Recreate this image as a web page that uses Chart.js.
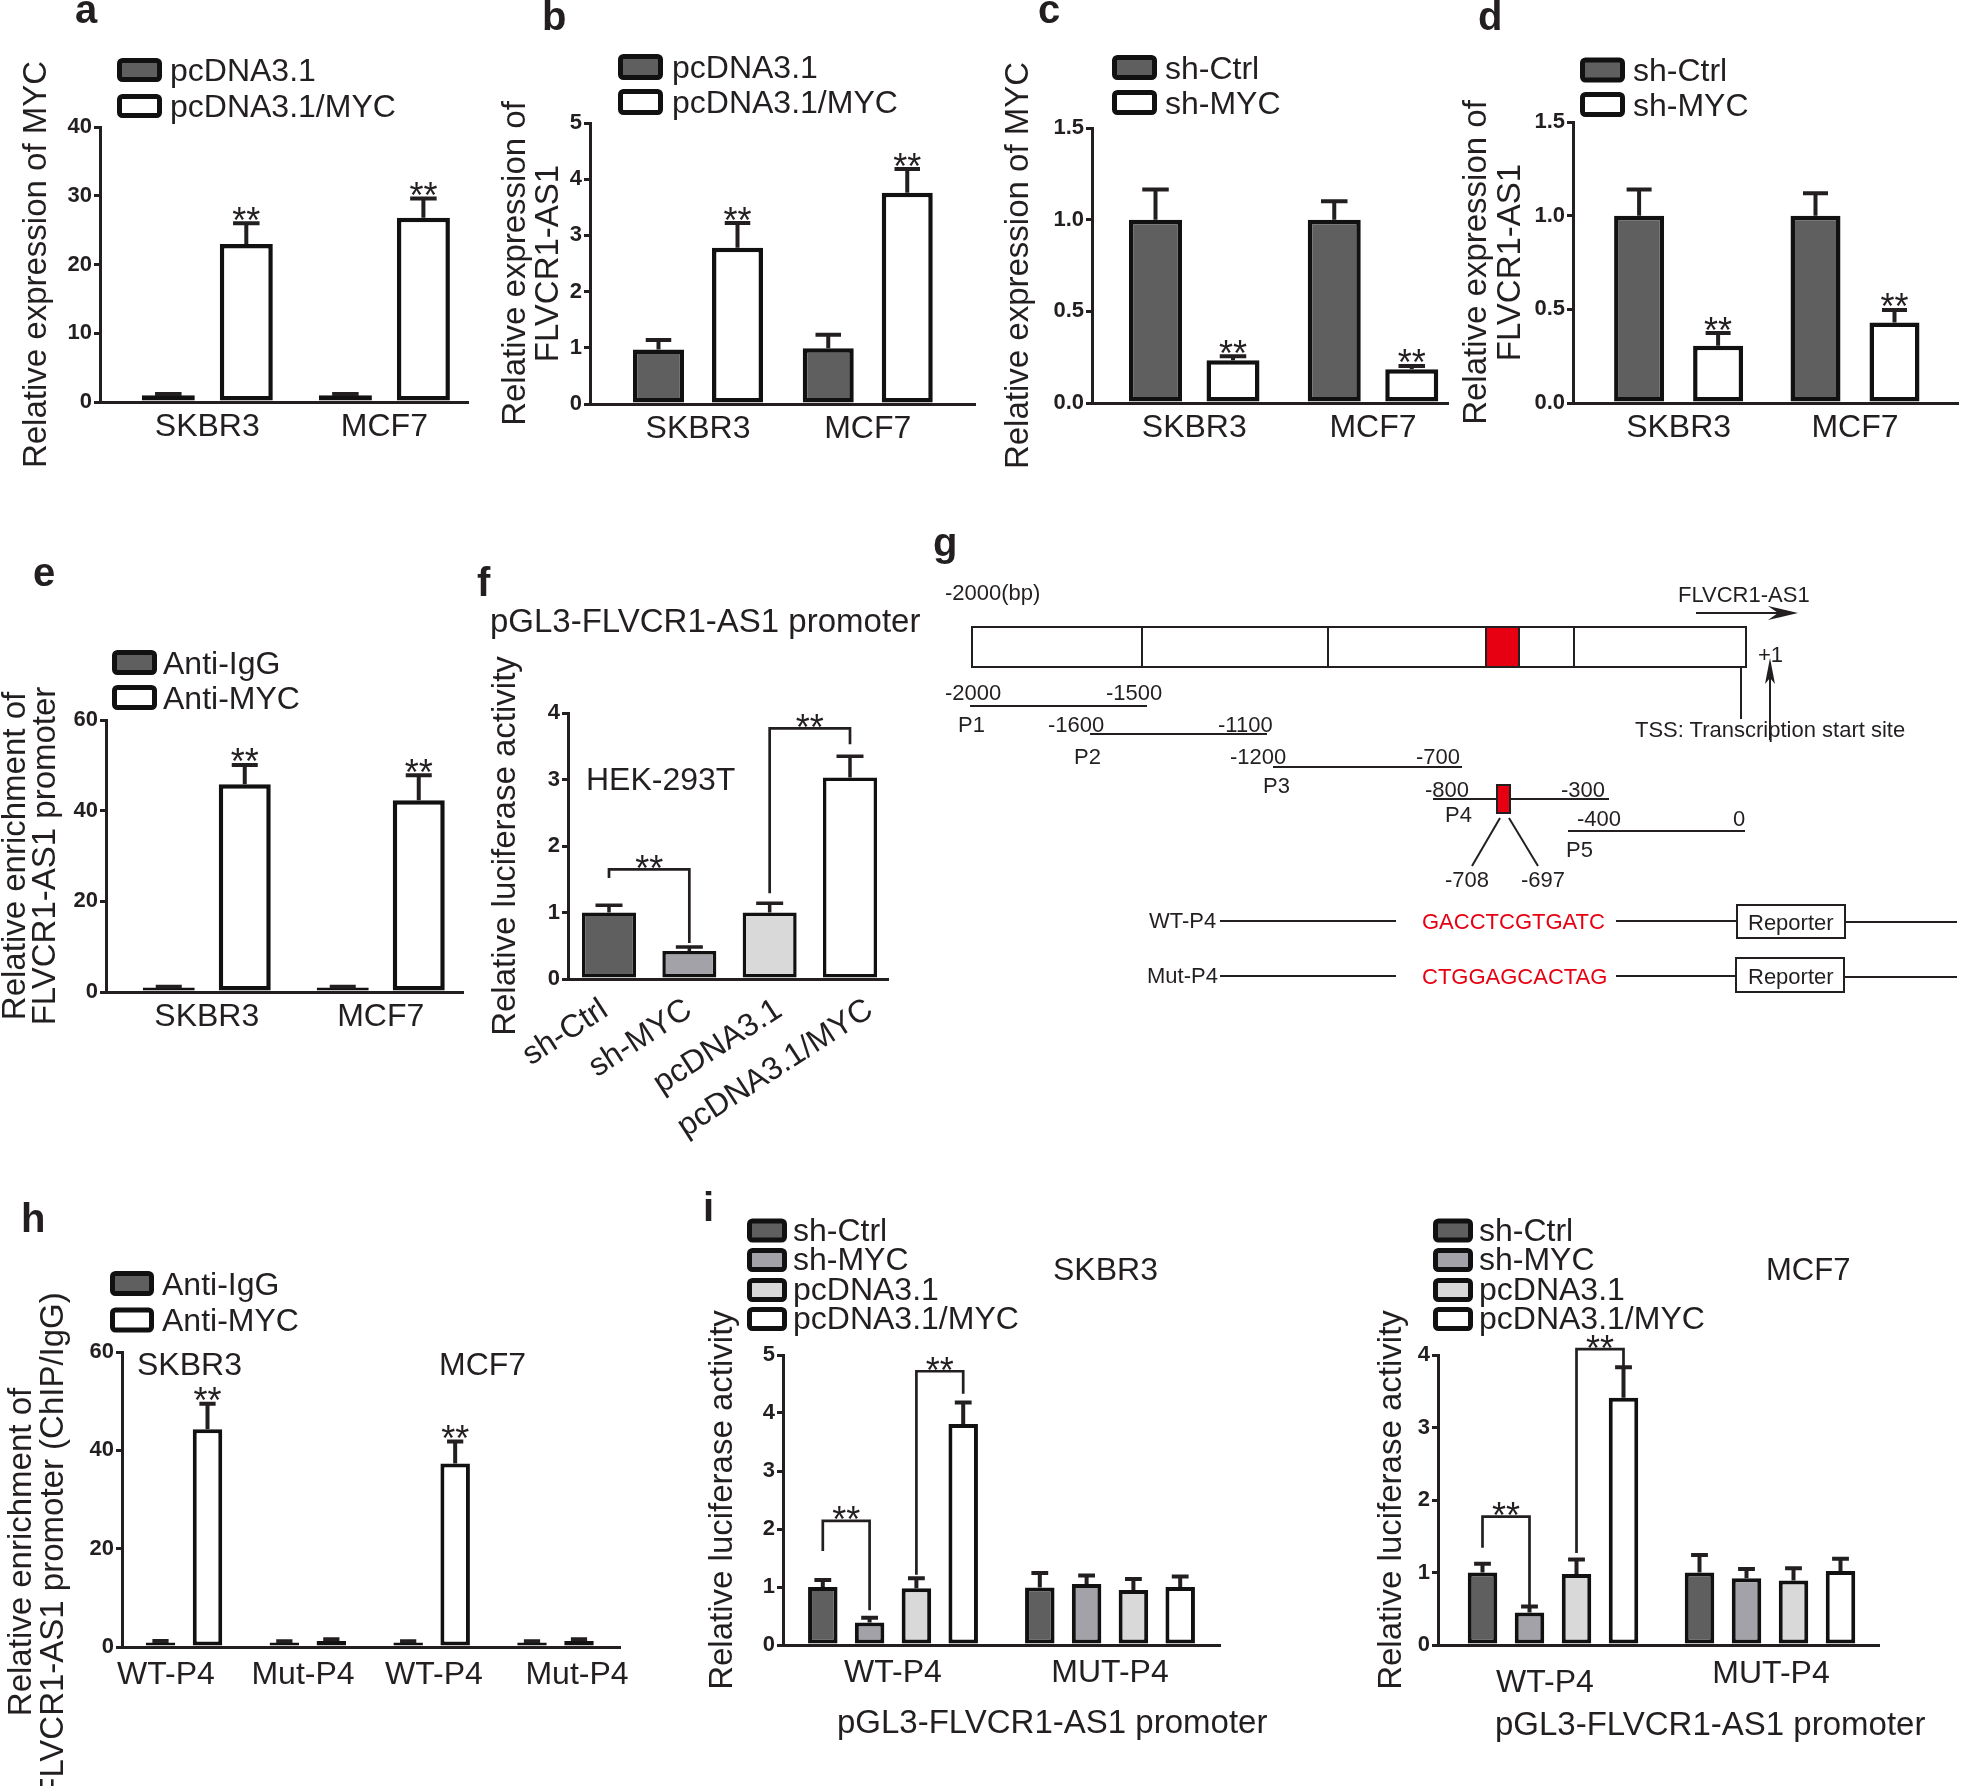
<!DOCTYPE html>
<html><head><meta charset="utf-8">
<script src="https://cdn.jsdelivr.net/npm/chart.js@4.4.1/dist/chart.umd.min.js"></script>
<style>
html,body{margin:0;padding:0;background:#fff;overflow:hidden;}
#page{position:relative;width:1961px;height:1786px;overflow:hidden;background:#fff;}
canvas{position:absolute;}
#ov{position:absolute;left:0;top:0;z-index:5;pointer-events:none;}
svg text{font-family:"Liberation Sans",Arial,Helvetica,sans-serif;}
</style></head>
<body><div id="page"><svg id="ov" width="1961" height="1786" xmlns="http://www.w3.org/2000/svg"></svg></div>
<script>
// ================= DATA =================
// a
const aCats = ['SKBR3', 'MCF7'];
const aSeries = ['pcDNA3.1', 'pcDNA3.1/MYC'];
const aCtrl = [1.0, 1.0];     const aCtrlSD = [0.15, 0.15];
const aMyc = [23.0, 26.8];    const aMycSD = [3.0, 2.8];
// b
const bCtrl = [0.97, 0.99];   const bCtrlSD = [0.17, 0.24];
const bMyc = [2.78, 3.76];    const bMycSD = [0.44, 0.42];
// c
const shSeries = ['sh-Ctrl', 'sh-MYC'];
const cCtrl = [1.0, 1.0];     const cCtrlSD = [0.165, 0.10];
const cSh = [0.233, 0.184];   const cShSD = [0.022, 0.018];
// d
const dCtrl = [1.0, 1.0];     const dCtrlSD = [0.14, 0.12];
const dSh = [0.305, 0.43];    const dShSD = [0.068, 0.067];
// e
const chipSeries = ['Anti-IgG', 'Anti-MYC'];
const eIgG = [1.0, 1.0];      const eIgGSD = [0.15, 0.15];
const eMyc = [45.8, 42.3];    const eMycSD = [4.3, 5.5];
// f
const fCats = ['sh-Ctrl', 'sh-MYC', 'pcDNA3.1', 'pcDNA3.1/MYC'];
const fVals = [1.0, 0.42, 1.0, 3.03];
const fSD = [0.11, 0.06, 0.14, 0.32];
const fBrackets = [
  {from: [0, 0], to: [0, 1], left: 1.52, top: 1.65, right: 0.54},
  {from: [0, 2], to: [0, 3], left: 1.29, top: 3.77, right: 3.53}
];
// h
const hCats = ['WT-P4', 'Mut-P4', 'WT-P4', 'Mut-P4'];
const hIgG = [0.9, 0.9, 0.9, 0.9];     const hIgGSD = [0.3, 0.25, 0.25, 0.25];
const hMyc = [44.3, 1.2, 37.3, 1.2];   const hMycSD = [5.2, 0.4, 4.5, 0.4];
const hStars = [true, false, true, false];
// i
const iCats = ['WT-P4', 'MUT-P4'];
const iSeries = ['sh-Ctrl', 'sh-MYC', 'pcDNA3.1', 'pcDNA3.1/MYC'];
const iSkCtrl = [1.0, 0.99];  const iSkCtrlSD = [0.12, 0.25];
const iSkSh = [0.39, 1.05];   const iSkShSD = [0.08, 0.15];
const iSkPc = [0.98, 0.95];   const iSkPcSD = [0.17, 0.19];
const iSkMyc = [3.81, 1.0];   const iSkMycSD = [0.37, 0.18];
const iSkBrackets = [
  {from: [0, 0], to: [1, 0], left: 1.62, top: 2.14, right: 0.60},
  {from: [2, 0], to: [3, 0], left: 1.21, top: 4.72, right: 4.33}
];
const iMcCtrl = [1.0, 1.0];   const iMcCtrlSD = [0.12, 0.24];
const iMcSh = [0.45, 0.92];   const iMcShSD = [0.08, 0.13];
const iMcPc = [0.98, 0.89];   const iMcPcSD = [0.20, 0.17];
const iMcMyc = [3.41, 1.02];  const iMcMycSD = [0.42, 0.17];
const iMcBrackets = [
  {from: [0, 0], to: [1, 0], left: 1.34, top: 1.77, right: 0.53},
  {from: [2, 0], to: [3, 0], left: 1.27, top: 4.08, right: 3.84}
];

// ================= STYLE =================
const INK = '#231f20';
const EDGE = '#111111';
const DARK = '#5f5f5f', MID = '#a2a2a8', LIGHT = '#d9d9d9', WHITE = '#ffffff';
const FONT = "'Liberation Sans', Arial, Helvetica, sans-serif";
Chart.defaults.font.family = FONT;
Chart.defaults.color = INK;

const page = document.getElementById('page');
const svg = document.getElementById('ov');
const NS = 'http://www.w3.org/2000/svg';
function el(tag, attrs, text) {
  const e = document.createElementNS(NS, tag);
  for (const k in attrs) e.setAttribute(k, attrs[k]);
  if (text != null) e.textContent = text;
  svg.appendChild(e);
  return e;
}
function txt(x, y, s, size, o = {}) {
  const a = {x: x, y: y, 'font-size': size, fill: o.fill || INK};
  if (o.bold) a['font-weight'] = 'bold';
  if (o.anchor) a['text-anchor'] = o.anchor;
  if (o.transform) a.transform = o.transform;
  return el('text', a, s);
}
function line(x1, y1, x2, y2, w, c) {
  return el('line', {x1, y1, x2, y2, stroke: c || INK, 'stroke-width': w || 2});
}
function legend(x, w, h, centers, tx, labels, colors, size, off) {
  labels.forEach((lab, i) => {
    el('rect', {x: x + 2.5, y: centers[i] - h / 2 + 2.5, width: w - 5, height: h - 5, rx: 3,
      fill: colors[i], stroke: EDGE, 'stroke-width': 5});
    txt(tx, centers[i] + off, lab, size);
  });
}

function drawStar(ctx, x, y) {
  ctx.font = "36px " + FONT;
  ctx.textAlign = 'center';
  ctx.textBaseline = 'alphabetic';
  ctx.fillText('**', x, y);
}

function overlayPlugin(p) {
  return {
    id: 'overlay_' + p.id,
    afterDatasetsDraw(chart) {
      const ctx = chart.ctx, ys = chart.scales.y;
      ctx.save();
      ctx.strokeStyle = INK; ctx.fillStyle = INK; ctx.lineCap = 'butt';
      chart.data.datasets.forEach((ds, di) => {
        const meta = chart.getDatasetMeta(di);
        meta.data.forEach((bar, i) => {
          const v = ds.data[i].y;
          const top = ys.getPixelForValue(v + ds.sd[i]);
          const cw = bar.width * p.cap;
          ctx.lineWidth = p.ew;
          ctx.beginPath();
          ctx.moveTo(bar.x, bar.y); ctx.lineTo(bar.x, top);
          ctx.moveTo(bar.x - cw / 2, top); ctx.lineTo(bar.x + cw / 2, top);
          ctx.stroke();
          if (ds.stars && ds.stars[i]) drawStar(ctx, bar.x, top + 9.5);
        });
      });
      (p.brackets || []).forEach(b => {
        const A = chart.getDatasetMeta(b.from[0]).data[b.from[1]];
        const B = chart.getDatasetMeta(b.to[0]).data[b.to[1]];
        const yl = ys.getPixelForValue(b.left), yt = ys.getPixelForValue(b.top), yr = ys.getPixelForValue(b.right);
        ctx.lineWidth = 2.7;
        ctx.beginPath();
        ctx.moveTo(A.x, yl); ctx.lineTo(A.x, yt); ctx.lineTo(B.x, yt); ctx.lineTo(B.x, yr);
        ctx.stroke();
        drawStar(ctx, (A.x + B.x) / 2, yt + 11.5);
      });
      ctx.restore();
    }
  };
}

function makeBar(p) {
  const cv = document.createElement('canvas');
  const [cx, cy, cw, ch] = p.canvas;
  cv.width = cw; cv.height = ch;
  cv.style.left = cx + 'px'; cv.style.top = cy + 'px';
  cv.style.width = cw + 'px'; cv.style.height = ch + 'px';
  page.appendChild(cv);
  const [l, t, r, b] = p.area;
  const gc = p.centers, n = gc.length;
  const u = (gc[n - 1] - gc[0]) / (n - 1);
  const xMin = 1 - (gc[0] - l) / u, xMax = n + (r - gc[n - 1]) / u;
  const tickVals = p.groups.map((g, i) => p.labelPos ? 1 + (p.labelPos[i] - gc[0]) / u : i + 1);
  const k = p.datasets.length;
  const chunk = p.chunk || u;
  const xs = p.xSize || 32;
  const datasets = p.datasets.map(d => ({
    label: d.label,
    data: d.values.map((v, i) => ({x: i + 1, y: v})),
    sd: d.sd, stars: d.stars,
    backgroundColor: d.color, borderColor: EDGE, borderWidth: p.bw, borderSkipped: false,
    categoryPercentage: chunk * k / u, barPercentage: p.barW / chunk
  }));
  const title = p.title ? {
    display: true, text: p.title.lines, color: INK,
    font: {family: FONT, size: p.title.size, lineHeight: p.title.lh / p.title.size},
    padding: {top: p.title.x - cx - p.title.lh / 2, bottom: 0}
  } : {display: false};
  new Chart(cv, {
    type: 'bar',
    data: {datasets},
    plugins: [overlayPlugin(p)],
    options: {
      responsive: false, animation: false, devicePixelRatio: 1, events: [],
      layout: {autoPadding: false, padding: {left: 0, top: t - cy, right: cx + cw - r, bottom: 0}},
      plugins: {legend: {display: false}, tooltip: {enabled: false}, title: {display: false}},
      scales: {
        x: {
          type: 'linear', min: xMin, max: xMax, offset: false,
          afterBuildTicks: s => { s.ticks = tickVals.map(v => ({value: v})); },
          afterFit: s => { s.height = cy + ch - b; },
          ticks: {autoSkip: false, color: INK, padding: p.xPad,
            font: c => ({family: FONT, size: xs, lineHeight: 1.2 + 2 * ((p.labelDrop && p.labelDrop[c.index]) || 0) / xs}),
            maxRotation: p.rot || 0, minRotation: p.rot || 0,
            callback: (v, i) => p.groups[i]},
          grid: {display: false, drawTicks: false, offset: false},
          border: {display: true, width: 3, color: INK, z: 1}
        },
        y: {
          type: 'linear', min: 0, max: p.yMax,
          afterFit: s => { s.width = l - cx; },
          ticks: {stepSize: p.yStep, color: INK, font: {family: FONT, size: 22, weight: 'bold'}, padding: 2,
            callback: v => p.yDec ? Number(v).toFixed(p.yDec) : v},
          grid: {display: true, drawOnChartArea: false, drawTicks: true, tickLength: 6, lineWidth: 3, color: INK},
          border: {display: true, width: 3, color: INK, z: 1},
          title: title
        }
      }
    }
  });
}

// ================= PANELS =================
makeBar({id: 'a', canvas: [0, 40, 480, 440], area: [100, 127, 468, 402],
  title: {lines: ['Relative expression of MYC'], x: 37, lh: 33, size: 33},
  groups: aCats, centers: [207.3, 384.4], chunk: 78, barW: 53,
  yMax: 40, yStep: 10, bw: 4.5, ew: 4, cap: 0.5, xPad: 6,
  datasets: [
    {label: aSeries[0], values: aCtrl, sd: aCtrlSD, color: DARK},
    {label: aSeries[1], values: aMyc, sd: aMycSD, color: WHITE, stars: [true, true]}
  ]});

makeBar({id: 'b', canvas: [490, 40, 490, 440], area: [590, 123, 975, 404],
  title: {lines: ['Relative expression of', 'FLVCR1-AS1'], x: 516, lh: 33, size: 33},
  groups: aCats, centers: [698, 867.75], chunk: 79, barW: 51,
  yMax: 5, yStep: 1, bw: 4.5, ew: 4, cap: 0.5, xPad: 6,
  datasets: [
    {label: aSeries[0], values: bCtrl, sd: bCtrlSD, color: DARK},
    {label: aSeries[1], values: bMyc, sd: bMycSD, color: WHITE, stars: [true, true]}
  ]});

makeBar({id: 'c', canvas: [985, 40, 475, 440], area: [1092, 128, 1448, 403],
  title: {lines: ['Relative expression of MYC'], x: 1019, lh: 33, size: 33},
  groups: aCats, centers: [1194.25, 1373], chunk: 77.5, barW: 53,
  yMax: 1.5, yStep: 0.5, yDec: 1, bw: 4.5, ew: 4, cap: 0.5, xPad: 6,
  datasets: [
    {label: shSeries[0], values: cCtrl, sd: cCtrlSD, color: DARK},
    {label: shSeries[1], values: cSh, sd: cShSD, color: WHITE, stars: [true, true]}
  ]});

makeBar({id: 'd', canvas: [1455, 40, 506, 440], area: [1573, 122, 1958, 403],
  title: {lines: ['Relative expression of', 'FLVCR1-AS1'], x: 1477, lh: 34, size: 33},
  groups: aCats, centers: [1678.6, 1855], chunk: 79, barW: 50,
  yMax: 1.5, yStep: 0.5, yDec: 1, bw: 4.5, ew: 4, cap: 0.5, xPad: 6,
  datasets: [
    {label: shSeries[0], values: dCtrl, sd: dCtrlSD, color: DARK},
    {label: shSeries[1], values: dSh, sd: dShSD, color: WHITE, stars: [true, true]}
  ]});

makeBar({id: 'e', canvas: [0, 660, 475, 380], area: [106, 720, 463, 992],
  title: {lines: ['Relative enrichment of', 'FLVCR1-AS1 promoter'], x: 16, lh: 30, size: 33},
  groups: aCats, centers: [206.75, 380.75], chunk: 76, barW: 52,
  yMax: 60, yStep: 20, bw: 4.5, ew: 4, cap: 0.5, xPad: 6,
  datasets: [
    {label: chipSeries[0], values: eIgG, sd: eIgGSD, color: DARK},
    {label: chipSeries[1], values: eMyc, sd: eMycSD, color: WHITE, stars: [true, true]}
  ]});

makeBar({id: 'f', canvas: [475, 630, 440, 540], area: [568, 713, 888, 979],
  title: {lines: ['Relative luciferase activity'], x: 506, lh: 33, size: 33},
  groups: fCats, centers: [609, 689, 769, 850], labelPos: [605, 689, 779, 870], barW: 54, rot: 33,
  yMax: 4, yStep: 1, bw: 3.5, ew: 3.5, cap: 0.5, xPad: 12,
  brackets: fBrackets,
  datasets: [
    {label: 'pGL3-FLVCR1-AS1 promoter', values: fVals, sd: fSD, color: [DARK, MID, LIGHT, WHITE]}
  ]});

makeBar({id: 'h', canvas: [60, 1320, 580, 466], area: [122, 1352, 620, 1647],
  title: null,
  groups: hCats, centers: [184, 308, 431, 555.5], labelPos: [166, 303, 434, 577], chunk: 47, barW: 29.5,
  yMax: 60, yStep: 20, bw: 4, ew: 4, cap: 0.55, xPad: 9,
  datasets: [
    {label: chipSeries[0], values: hIgG, sd: hIgGSD, color: DARK},
    {label: chipSeries[1], values: hMyc, sd: hMycSD, color: WHITE, stars: hStars}
  ]});

makeBar({id: 'i1', canvas: [690, 1300, 545, 420], area: [783, 1355, 1220, 1645],
  title: {lines: ['Relative luciferase activity'], x: 723, lh: 33, size: 33},
  groups: iCats, centers: [893, 1110], chunk: 46.8, barW: 29.5,
  yMax: 5, yStep: 1, bw: 4, ew: 4, cap: 0.57, xPad: 9,
  brackets: iSkBrackets,
  datasets: [
    {label: iSeries[0], values: iSkCtrl, sd: iSkCtrlSD, color: DARK},
    {label: iSeries[1], values: iSkSh, sd: iSkShSD, color: MID},
    {label: iSeries[2], values: iSkPc, sd: iSkPcSD, color: LIGHT},
    {label: iSeries[3], values: iSkMyc, sd: iSkMycSD, color: WHITE}
  ]});

makeBar({id: 'i2', canvas: [1360, 1300, 560, 420], area: [1438, 1355, 1879, 1645],
  title: {lines: ['Relative luciferase activity'], x: 1392, lh: 33, size: 33},
  groups: iCats, centers: [1553, 1770], labelPos: [1545, 1771], labelDrop: [9, 0], chunk: 47, barW: 29.5,
  yMax: 4, yStep: 1, bw: 4, ew: 4, cap: 0.57, xPad: 10,
  brackets: iMcBrackets,
  datasets: [
    {label: iSeries[0], values: iMcCtrl, sd: iMcCtrlSD, color: DARK},
    {label: iSeries[1], values: iMcSh, sd: iMcShSD, color: MID},
    {label: iSeries[2], values: iMcPc, sd: iMcPcSD, color: LIGHT},
    {label: iSeries[3], values: iMcMyc, sd: iMcMycSD, color: WHITE}
  ]});

// ================= TEXT, LEGENDS =================
// panel letters
[['a', 75, 23], ['b', 542, 30], ['c', 1038, 23], ['d', 1478, 30], ['e', 33, 586],
 ['f', 477, 596], ['g', 933, 556], ['h', 21, 1232], ['i', 703, 1221]].forEach(([s, x, y]) => txt(x, y, s, 40, {bold: true}));

legend(117, 45, 24, [70, 106], 170, aSeries, [DARK, WHITE], 32, 11);
legend(618, 45, 26, [67, 102], 672, aSeries, [DARK, WHITE], 32, 11);
legend(1112, 45, 25, [67.5, 102.5], 1165, shSeries, [DARK, WHITE], 32, 11);
legend(1580, 45, 25, [70, 104.5], 1633, shSeries, [DARK, WHITE], 32, 11);
legend(112, 45, 25, [662.5, 697.5], 163, chipSeries, [DARK, WHITE], 32, 11);
legend(110, 44, 25, [1283.5, 1320], 162, chipSeries, [DARK, WHITE], 32, 11);
legend(747, 40, 24, [1230.5, 1260, 1290, 1319], 793, iSeries, [DARK, MID, LIGHT, WHITE], 32, 10);
legend(1433, 40, 24, [1230.5, 1260, 1290, 1319], 1479, iSeries, [DARK, MID, LIGHT, WHITE], 32, 10);

// f
txt(490, 632, 'pGL3-FLVCR1-AS1 promoter', 33);
txt(586, 790, 'HEK-293T', 32);
// h
txt(137, 1375, 'SKBR3', 32);
txt(439, 1375, 'MCF7', 32);
txt(0, 0, 'Relative enrichment of', 33, {anchor: 'middle', transform: 'translate(31,1552) rotate(-90)'});
txt(0, 0, 'FLVCR1-AS1 promoter (ChIP/IgG)', 33, {anchor: 'middle', transform: 'translate(63,1545) rotate(-90)'});
// i
txt(1053, 1280, 'SKBR3', 32);
txt(1766, 1280, 'MCF7', 31);
txt(837, 1733, 'pGL3-FLVCR1-AS1 promoter', 33);
txt(1495, 1735, 'pGL3-FLVCR1-AS1 promoter', 33);

// ================= g : promoter diagram =================
const RED = '#e60012';
txt(945, 600, '-2000(bp)', 22);
el('rect', {x: 972, y: 627, width: 774, height: 40, fill: 'none', stroke: INK, 'stroke-width': 2});
el('rect', {x: 1486, y: 627, width: 33, height: 40, fill: RED, stroke: INK, 'stroke-width': 2});
[1142, 1328, 1574].forEach(x => line(x, 627, x, 667, 2));
txt(1678, 602, 'FLVCR1-AS1', 22);
line(1696, 613, 1782, 613, 2);
el('polygon', {points: '1798,613 1768,606 1778,613 1768,620', fill: INK});
txt(1758, 662, '+1', 22);
line(1770, 740, 1770, 674, 2);
el('polygon', {points: '1770,658 1765,684 1770,678 1775,684', fill: INK});
line(1741, 667, 1741, 719, 2);
txt(1635, 737, 'TSS: Transcription start site', 22);

txt(945, 700, '-2000', 22); txt(1106, 700, '-1500', 22);
line(970, 706, 1147, 706, 2); txt(958, 732, 'P1', 22);
txt(1048, 732, '-1600', 22); txt(1218, 732, '-1100', 22);
line(1090, 734, 1267, 734, 2); txt(1074, 764, 'P2', 22);
txt(1230, 764, '-1200', 22); txt(1416, 764, '-700', 22);
line(1273, 767, 1462, 767, 2); txt(1263, 793, 'P3', 22);
txt(1425, 797, '-800', 22); txt(1561, 797, '-300', 22);
line(1433, 799, 1609, 799, 2);
el('rect', {x: 1497, y: 785, width: 13, height: 28, fill: RED, stroke: INK, 'stroke-width': 2});
txt(1445, 822, 'P4', 22);
txt(1577, 826, '-400', 22); txt(1733, 826, '0', 22);
line(1568, 831, 1745, 831, 2); txt(1566, 857, 'P5', 22);
line(1500, 818, 1472, 866, 2); line(1509, 818, 1538, 866, 2);
txt(1445, 887, '-708', 22); txt(1521, 887, '-697', 22);

txt(1149, 928, 'WT-P4', 22);
line(1220, 921, 1396, 921, 2);
txt(1422, 929, 'GACCTCGTGATC', 22, {fill: RED});
line(1616, 921, 1737, 921, 2);
el('rect', {x: 1737, y: 905, width: 108, height: 33, fill: 'none', stroke: INK, 'stroke-width': 2});
txt(1748, 930, 'Reporter', 22);
line(1845, 922, 1957, 922, 2);

txt(1147, 983, 'Mut-P4', 22);
line(1220, 976, 1396, 976, 2);
txt(1422, 984, 'CTGGAGCACTAG', 22, {fill: RED});
line(1616, 976, 1736, 976, 2);
el('rect', {x: 1736, y: 958, width: 108, height: 34, fill: 'none', stroke: INK, 'stroke-width': 2});
txt(1748, 984, 'Reporter', 22);
line(1844, 977, 1957, 977, 2);
</script>
</body></html>
